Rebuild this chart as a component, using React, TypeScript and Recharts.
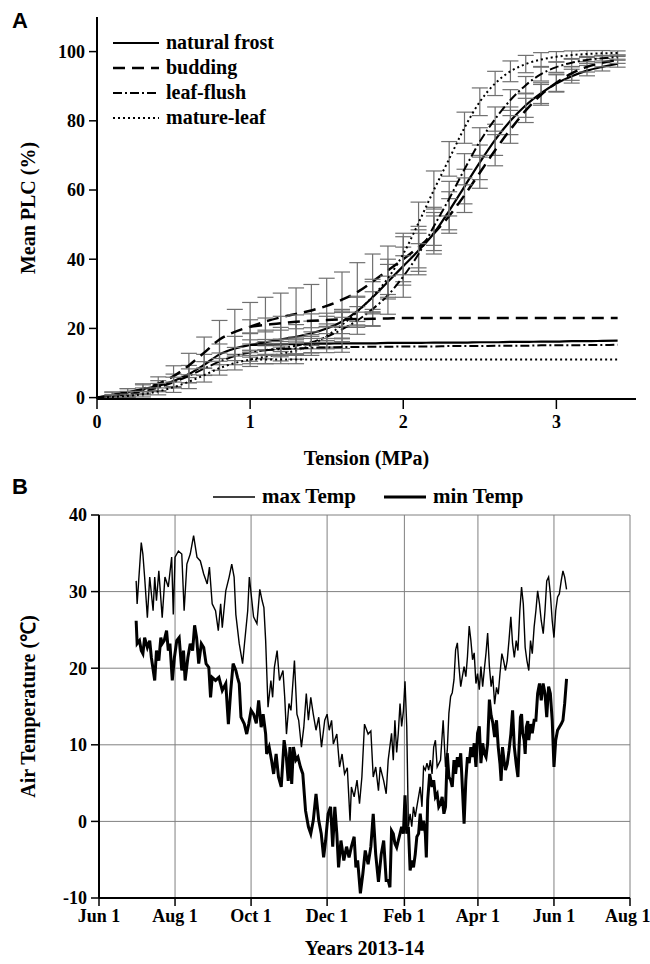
import React from 'react';
import {
  LineChart,
  Line,
  XAxis,
  YAxis,
  ErrorBar,
  CartesianGrid,
  Legend,
  Label,
} from 'recharts';

// ---- panel A: vulnerability curves ----
const tension = [
  0, 0.1, 0.2, 0.3, 0.4, 0.5, 0.6, 0.7, 0.8, 0.9, 1.0, 1.1, 1.2, 1.3, 1.4, 1.5, 1.6, 1.7,
  1.8, 1.9, 2.0, 2.1, 2.2, 2.3, 2.4, 2.5, 2.6, 2.7, 2.8, 2.9, 3.0, 3.1, 3.2, 3.3, 3.4,
];
const frostFit = [
  0, 0.8, 1.6, 2.5, 3.4, 4.8, 6.8, 9.5, 12.5, 14.2, 15.2, 16.0, 16.8, 17.6, 18.6, 20.0, 22.0,
  25.0, 29.0, 33.5, 38.0, 42.5, 47.5, 54.0, 61.0, 68.0, 74.5, 80.0, 84.5, 88.0, 90.8, 92.9,
  94.5, 95.6, 96.5,
];
const frostFlat = [
  null, null, null, null, null, null, null, null, null, null, 15.2, 15.3, 15.4, 15.5, 15.6,
  15.6, 15.7, 15.7, 15.7, 15.8, 15.8, 15.8, 15.9, 15.9, 15.9, 16.0, 16.0, 16.1, 16.1, 16.2,
  16.2, 16.3, 16.3, 16.4, 16.5,
];
const buddingFit = [
  0, 0.6, 1.4, 2.5, 4.0, 6.2, 9.3, 13.0, 16.8, 19.0, 20.5, 22.0, 23.2, 24.2, 25.2, 26.5, 28.3,
  30.5, 33.5, 36.8, 40.0, 43.5, 47.5, 52.5, 58.5, 65.0, 71.5, 77.5, 83.0, 87.5, 91.0, 93.7,
  95.6, 96.8, 97.6,
];
const buddingFlat = [
  null, null, null, null, null, null, null, null, null, null, 20.5, 21.0, 21.5, 21.9, 22.2,
  22.4, 22.6, 22.7, 22.8, 22.9, 23.0, 23.0, 23.0, 23.0, 23.0, 23.0, 23.0, 23.0, 23.0, 23.0,
  23.0, 23.0, 23.0, 23.0, 23.0,
];
const leafFit = [
  0, 0.4, 1.0, 1.8, 2.9, 4.4, 6.3, 8.4, 10.4, 12.0, 13.0, 13.7, 14.3, 15.0, 16.0, 17.6, 19.7,
  22.3, 25.6, 29.6, 35.0, 41.5, 49.5, 57.5, 66.0, 74.0, 80.5, 86.0, 90.3, 93.5, 95.5, 96.8,
  97.6, 98.1, 98.4,
];
const leafFlat = [
  null, null, null, null, null, null, null, null, null, null, null, 13.7, 14.0, 14.2, 14.4,
  14.5, 14.6, 14.6, 14.7, 14.7, 14.8, 14.8, 14.8, 14.9, 14.9, 14.9, 15.0, 15.0, 15.0, 15.1,
  15.1, 15.1, 15.2, 15.2, 15.3,
];
const matureFit = [
  0, 0.2, 0.5, 1.0, 1.8, 3.0, 4.6, 6.5, 8.5, 10.0, 11.0, 11.8, 12.6, 13.6, 15.2, 17.8, 21.0,
  24.8, 29.2, 34.5, 41.5, 50.5, 60.0, 69.0, 78.0, 85.5, 90.8, 94.3, 96.4, 97.7, 98.5, 99.0,
  99.3, 99.5, 99.6,
];
const matureFlat = [
  null, null, null, null, null, null, null, null, null, null, 11.0, 11.0, 11.0, 11.0, 11.0,
  11.0, 11.0, 11.0, 11.0, 11.0, 11.0, 11.0, 11.0, 11.0, 11.0, 11.0, 11.0, 11.0, 11.0, 11.0,
  11.0, 11.0, 11.0, 11.0, 11.0,
];

// standard errors
const frostErr = [
  null, 0.8, 1, 1.2, 1.5, 2, 2.5, 3, 3, 3.5, 3.5, 3.5, 3.5, 3.5, 3.5, 3.5, 3.5, 4, 4.5, 5,
  5.5, 6, 6, 5.5, 5, 5, 4.5, 4, 3.5, 3, 2.5, 2, 1.5, 1.2, 1,
];
const buddingErr = [
  null, 1, 1.2, 1.5, 2, 3, 3.5, 4.5, 5.5, 6.5, 7, 7, 7, 7.5, 7.5, 8, 8, 8.5, 8, 7, 6.5, 6, 5,
  5, 5, 4.5, 4.5, 4, 3.5, 3, 2.5, 2, 1.5, 1.2, 1,
];
const leafErr = [
  null, 0.5, 0.8, 1, 1.2, 1.5, 2, 2, 2.5, 2.5, 2.5, 2.5, 2.5, 2.5, 3, 3, 3.5, 4, 5, 5.5, 6, 6,
  5.5, 5, 4.5, 4, 3.5, 3, 2.5, 2, 1.5, 1.2, 1, 0.8, 0.6,
];
const matureErr = [
  null, 0.3, 0.5, 0.8, 1, 1.5, 2, 2, 2, 2, 2, 2, 2, 2.5, 3, 3.5, 4, 4.5, 5, 5.5, 6, 6, 5.5,
  5, 4.5, 4, 3.5, 3, 2.5, 2, 1.5, 1.2, 1, 0.8, 0.6,
];
const frostFlatErr = [
  null, null, null, null, null, null, null, null, null, null, 1.5, 1.5, 1.5, 1.5, 1.5, 1.5,
  1.5,
];
const buddingFlatErr = [
  null, null, null, null, null, null, null, null, null, null, 2, 2, 2, 2, 2, 2, 2, 2, 2,
];
const leafFlatErr = [
  null, null, null, null, null, null, null, null, null, null, null, 1.5, 1.5, 1.5, 1.5, 1.5,
  1.5,
];
const matureFlatErr = [null, null, null, null, null, null, null, null, null, null, 1.2, 1.2, 1.2, 1.2];

const tensionTicks = [0, 1, 2, 3];
const plcTicks = [0, 20, 40, 60, 80, 100];

// ---- panel B: daily air temperature (day 0 = Jun 1 2013) ----
const maxDay = [
  29.8, 30.6, 33.9, 35.2, 36.6, 38.8, 40.7, 43.4, 44.7, 46.1, 48.0, 50.7, 52.9, 55.6, 58.3,
  59.6, 61.0, 63.7, 66.4, 68.3, 70.5, 73.2, 75.9, 78.6, 81.3, 84.0, 86.8, 88.6, 90.8, 93.5,
  95.7, 97.6, 98.9, 101.7, 104.4, 106.5, 108.4, 109.8, 112.5, 115.2, 116.6, 119.3, 120.6,
  124.0, 126.7, 129.0, 130.9, 132.3, 133.7, 135.6, 137.9, 139.3, 140.7, 142.9, 144.8, 147.6,
  149.0, 150.4, 152.4, 154.0, 156.8, 158.8, 160.2, 162.4, 164.3, 166.3, 168.0, 169.9, 171.9,
  174.1, 176.3, 178.5, 181.1, 183.0, 184.7, 186.6, 188.0, 190.8, 193.0, 195.0, 197.0, 199.2,
  201.4, 202.5, 204.7, 207.0, 209.0, 210.9, 213.0, 215.9, 218.1, 220.0, 222.0, 224.2, 225.6,
  228.4, 230.4, 232.0, 234.7, 236.1, 237.4, 238.8, 240.1, 241.5, 242.8, 244.2, 245.5, 246.9,
  248.2, 249.6, 250.9, 252.3, 253.7, 255.0, 257.7, 259.1, 260.4, 261.8, 263.1, 264.5, 265.8,
  267.2, 268.5, 269.9, 271.3, 274.0, 276.1, 278.0, 279.4, 280.7, 282.1, 283.4, 284.8, 286.1,
  287.5, 288.8, 290.2, 291.5, 292.9, 294.3, 295.6, 297.0, 298.3, 299.7, 301.0, 302.4, 303.7,
  305.1, 306.4, 307.8, 309.1, 310.5, 311.8, 313.2, 314.6, 315.9, 317.4, 318.9, 320.3, 321.7,
  323.2, 324.6, 326.1, 327.5, 328.9, 330.4, 331.8, 333.2, 334.7, 336.1, 337.6, 339.0, 340.4,
  341.9, 343.3, 344.8, 346.2, 347.6, 349.1, 350.5, 351.9, 353.4, 354.8, 356.4, 357.8, 359.2,
  360.7, 362.1, 363.6, 365.0, 366.4, 367.9, 369.3, 370.8, 372.2, 373.6, 375.1,
];
const maxTemp = [
  31.4, 28.4, 36.4, 34.9, 31.9, 26.6, 31.9, 27.5, 31.9, 28.8, 32.7, 26.6, 31.9, 30.6, 34.5,
  27.0, 34.5, 35.3, 34.9, 27.5, 33.6, 34.9, 37.3, 34.5, 34.0, 32.3, 31.0, 33.2, 28.4, 27.5,
  24.9, 28.4, 25.3, 30.1, 31.9, 33.6, 31.9, 27.0, 23.2, 20.6, 23.0, 27.5, 31.9,
  26.7, 25.8, 30.3, 28.8, 27.9, 23.6, 14.9, 18.4, 16.2, 20.1, 22.3, 18.4, 19.7,
  16.2, 11.4, 15.4, 14.5, 21.0, 14.0, 13.2, 9.7, 12.3, 16.7, 13.2, 16.2, 14.0,
  11.9, 13.6, 9.7, 13.2, 14.0, 11.9, 13.2, 10.1, 11.4, 7.1, 8.8, 6.2, 7.0,
  0.1, 4.5, 3.2, 5.4, 2.3, 5.8, 12.7, 11.4, 11.8, 5.8, 7.1, 4.0, 7.1,
  5.3, 3.6, 8.0, 11.5, 8.0, 13.2, 9.0, 11.5, 15.4, 12.4, 14.4, 18.3, 12.4,
  -0.7, 1.0, -0.7, 1.9, 0.6, 1.9, 4.5, 1.9, 7.1, 6.7, 7.6, 6.7, 8.0,
  6.2, 9.7, 10.6, 7.1, 8.0, 13.2, 7.1, 9.3, 14.1, 16.3, 16.8, 18.5, 22.4,
  23.3, 20.2, 17.6, 18.9, 20.2, 18.9, 21.5, 25.5, 23.7, 21.1, 22.0, 18.0, 19.3,
  17.2, 20.2, 17.6, 19.8, 22.0, 24.6, 20.2, 17.6, 19.0, 15.3, 17.5, 16.6, 19.3,
  21.9, 21.0, 19.7, 21.0, 23.6, 26.7, 23.2, 21.4, 23.6, 22.3, 27.5, 30.6, 28.4,
  22.7, 21.0, 19.7, 23.6, 21.9, 25.4, 27.5, 30.1, 28.4, 26.2, 24.5, 27.5, 31.4,
  31.9, 29.7, 26.2, 24.0, 27.5, 29.3, 29.7, 31.4, 32.7, 31.9, 30.3,
];
const minDay = [
  29.8, 30.6, 32.5, 33.9, 35.2, 36.6, 38.8, 40.7, 42.0, 44.7, 46.1, 48.0, 49.6, 50.7, 52.3,
  54.2, 55.6, 56.9, 58.8, 60.5, 62.4, 64.3, 66.4, 67.8, 69.1, 71.3, 73.2, 75.1, 76.7, 78.3,
  80.0, 82.1, 84.0, 85.9, 88.1, 89.5, 90.8, 93.5, 96.2, 98.9, 101.7, 103.8, 105.7, 107.6,
  109.8, 111.1, 112.5, 113.9, 116.6, 118.5, 120.1, 122.0, 124.0, 126.2, 128.1, 130.1, 131.7,
  133.7, 134.5, 136.5, 138.4, 140.1, 142.1, 144.0, 146.2, 148.5, 150.1, 151.8, 153.2, 154.6,
  156.0, 157.9, 159.6, 161.6, 163.5, 165.7, 168.0, 169.9, 171.9, 174.1, 176.3, 178.3, 180.2,
  181.8, 183.8, 185.8, 187.5, 189.2, 190.8, 192.2, 194.1, 196.4, 198.6, 200.6, 202.5, 204.7,
  206.1, 207.5, 209.7, 211.7, 213.6, 215.9, 218.1, 220.0, 222.0, 224.2, 226.4, 228.4, 230.4,
  232.0, 233.4, 234.7, 236.1, 237.4, 238.8, 240.1, 241.5, 242.8, 244.2, 245.5, 246.9, 248.2,
  249.6, 250.9, 252.3, 253.7, 255.0, 256.4, 257.7, 259.1, 260.4, 261.8, 262.6, 263.7, 265.3,
  267.2, 268.5, 269.9, 271.3, 272.6, 274.0, 275.3, 276.7, 278.0, 279.4, 280.7, 282.1, 283.4,
  284.8, 286.1, 287.5, 288.8, 290.2, 291.5, 292.9, 294.3, 295.6, 297.0, 298.3, 299.7, 301.0,
  302.4, 303.7, 305.1, 306.4, 307.8, 309.1, 310.5, 311.8, 313.2, 314.6, 315.9, 317.4, 318.9,
  320.3, 321.7, 322.6, 323.7, 324.9, 326.1, 327.5, 328.9, 330.4, 331.8, 333.2, 334.7, 336.1,
  337.0, 338.1, 339.0, 339.9, 341.1, 341.9, 342.8, 344.0, 344.8, 346.2, 347.6, 349.1, 350.5,
  351.9, 353.4, 354.8, 356.3, 357.8, 359.2, 360.7, 362.1, 363.6, 365.0, 366.4, 367.9, 369.3,
  370.8, 372.2, 373.6, 375.1,
];
const minTemp = [
  26.2, 23.2, 23.6, 22.3, 21.9, 24.0, 22.7, 23.6, 21.4, 18.4, 22.3, 21.0, 24.0, 23.2, 23.6,
  24.9, 22.3, 23.2, 18.4, 21.4, 23.6, 24.0, 19.7, 22.3, 18.4, 21.4, 23.2, 22.3, 25.6, 24.0,
  20.6, 23.2, 22.7, 20.6, 20.1, 16.2, 18.8, 18.4, 18.8, 17.1, 18.0, 12.7, 17.1, 20.6,
  19.7, 18.8, 18.0, 13.6, 12.7, 11.4, 12.7, 14.5, 14.0, 12.8, 15.8, 12.3, 14.0,
  11.4, 8.8, 9.7, 8.0, 6.2, 8.8, 5.8, 4.5, 10.6, 8.8, 5.3, 9.7, 4.9,
  9.7, 8.0, 8.4, 7.1, 6.2, 1.4, -0.7, -1.6, 0.1, 3.6, 0.1, -1.6, -4.7,
  -2.5, 1.0, 1.9, -3.3, 1.9, -1.6, -6.0, -2.5, -5.1, -3.3, -4.7, -3.3, -2.0,
  -6.0, -5.1, -9.4, -6.8, -3.8, -5.6, -3.3, 1.0, -4.3, -7.9, -4.3, -2.5, -7.7,
  -7.7, -8.6, -1.2, -1.6, -2.9, -3.4, -2.5, -1.6, -0.7, -1.6, 3.4, -1.6, -0.7,
  -6.4, -5.1, -6.0, -4.3, -2.0, -1.6, 1.0, -1.2, 0.1, -1.6, -4.7, 2.8, 6.2,
  4.5, 5.4, 3.2, 3.6, 1.9, 2.3, 3.2, 1.0, 1.9, 8.9, 5.8, 5.4, 4.5,
  8.0, 6.2, 8.4, 7.1, 8.9, 4.5, -0.3, 5.4, 8.4, 7.6, 9.7, 8.4, 10.2,
  7.1, 11.5, 12.4, 7.6, 10.2, 8.9, 8.4, 10.2, 15.9, 13.8, 12.9, 11.0, 13.2,
  9.7, 7.5, 5.3, 9.7, 8.0, 6.7, 7.5, 9.2, 11.4, 14.5, 9.7, 7.5, 5.8,
  9.7, 13.6, 14.0, 11.5, 10.6, 8.8, 12.3, 13.1, 10.6, 12.7, 11.5, 13.2, 13.2,
  16.7, 18.0, 15.8, 18.0, 16.7, 13.6, 17.6, 16.7, 13.2, 7.1, 10.6, 11.9, 12.3,
  12.7, 13.2, 15.4, 18.6,
];

const monthTicks = [0, 61, 122, 183, 245, 304, 365, 426];
const monthLabels = ['Jun 1', 'Aug 1', 'Oct 1', 'Dec 1', 'Feb 1', 'Apr 1', 'Jun 1', 'Aug 1'];
const tempTicks = [-10, 0, 10, 20, 30, 40];

const serif = '"Liberation Serif", "Times New Roman", serif';
const sans = '"Liberation Sans", Arial, sans-serif';

const dataA = tension.map((t, i) => ({
  t,
  frost: frostFit[i],
  frostFlat: frostFlat[i],
  budding: buddingFit[i],
  buddingFlat: buddingFlat[i],
  leaf: leafFit[i],
  leafFlat: leafFlat[i],
  mature: matureFit[i],
  matureFlat: matureFlat[i],
  frostErr: frostErr[i],
  buddingErr: buddingErr[i],
  leafErr: leafErr[i],
  matureErr: matureErr[i],
  frostFlatErr: frostFlatErr[i],
  buddingFlatErr: buddingFlatErr[i],
  leafFlatErr: leafFlatErr[i],
  matureFlatErr: matureFlatErr[i],
}));

const maxData = maxDay.map((day, i) => ({ day, v: maxTemp[i] }));
const minData = minDay.map((day, i) => ({ day, v: minTemp[i] }));

const seriesA = [
  { key: 'frost', name: 'natural frost', dash: undefined, width: 2.2 },
  { key: 'budding', name: 'budding', dash: '12 7', width: 2.5 },
  { key: 'leaf', name: 'leaf-flush', dash: '9 3 2 3', width: 2 },
  { key: 'mature', name: 'mature-leaf', dash: '2 3', width: 2 },
];

const tickStyle = { fill: '#000', fontSize: 18, fontWeight: 700, fontFamily: serif, style: { fontFamily: serif } };
const titleStyle = { fill: '#000', fontSize: 20, fontWeight: 700, fontFamily: serif };
const axisLine = { stroke: '#000', strokeWidth: 2 };
const tickLine = { stroke: '#000', strokeWidth: 1.5 };
const errColor = '#707070';

function LegendA() {
  return (
    <div>
      {seriesA.map((s) => (
        <div key={s.key} style={{ display: 'flex', alignItems: 'center', height: 25 }}>
          <svg width={46} height={10}>
            <line x1={0} x2={46} y1={5} y2={5} stroke="#000" strokeWidth={s.width} strokeDasharray={s.dash} />
          </svg>
          <span style={{ marginLeft: 7, fontFamily: serif, fontWeight: 700, fontSize: 20 }}>{s.name}</span>
        </div>
      ))}
    </div>
  );
}

function LegendB() {
  const items = [
    { name: 'max Temp', width: 1.4 },
    { name: 'min Temp', width: 3 },
  ];
  return (
    <div style={{ display: 'flex', alignItems: 'center' }}>
      {items.map((it, i) => (
        <div key={it.name} style={{ display: 'flex', alignItems: 'center', marginLeft: i ? 28 : 0 }}>
          <svg width={42} height={10}>
            <line x1={0} x2={42} y1={5} y2={5} stroke="#000" strokeWidth={it.width} />
          </svg>
          <span style={{ marginLeft: 7, fontFamily: serif, fontWeight: 700, fontSize: 21 }}>{it.name}</span>
        </div>
      ))}
    </div>
  );
}

export default function App() {
  return (
    <div style={{ position: 'absolute', left: 0, top: 0, width: 650, height: 964, background: '#fff', fontFamily: serif }}>
      <div style={{ position: 'absolute', left: 12, top: 8, fontFamily: sans, fontWeight: 700, fontSize: 22 }}>A</div>
      <div style={{ position: 'absolute', left: 12, top: 474, fontFamily: sans, fontWeight: 700, fontSize: 22 }}>B</div>

      <div style={{ position: 'absolute', left: 0, top: 0 }}>
        <LineChart width={650} height={470} data={dataA} margin={{ top: 17, right: 14, left: 0, bottom: 0 }}>
          <XAxis
            dataKey="t"
            type="number"
            domain={[0, 3.52]}
            ticks={tensionTicks}
            allowDataOverflow
            height={71}
            tick={tickStyle}
            tickSize={10}
            tickMargin={6}
            axisLine={axisLine}
            tickLine={tickLine}
          >
            <Label value="Tension (MPa)" position="insideBottom" offset={5} style={titleStyle} />
          </XAxis>
          <XAxis xAxisId="top" orientation="top" type="number" domain={[0, 1]} height={0} tick={false} tickLine={false} axisLine={axisLine} />
          <YAxis
            domain={[0, 110]}
            ticks={plcTicks}
            width={97}
            tick={tickStyle}
            tickSize={8}
            tickMargin={4}
            axisLine={axisLine}
            tickLine={tickLine}
          >
            <Label value="Mean PLC (%)" angle={-90} position="insideLeft" offset={28} style={{ ...titleStyle, textAnchor: 'middle' }} />
          </YAxis>
          <YAxis yAxisId="right" orientation="right" domain={[0, 1]} width={0} tick={false} tickLine={false} axisLine={axisLine} />
          <Legend
            layout="vertical"
            align="center"
            verticalAlign="middle"
            content={() => <LegendA />}
            wrapperStyle={{ top: 30, left: 113, width: 'auto' }}
          />
          {seriesA.map((s) => (
            <Line
              key={s.key}
              type="monotone"
              dataKey={s.key}
              stroke="#000"
              strokeWidth={s.width}
              strokeDasharray={s.dash}
              dot={false}
              isAnimationActive={false}
              legendType="none"
            >
              <ErrorBar dataKey={s.key + 'Err'} width={8} strokeWidth={1.2} stroke={errColor} direction="y" />
            </Line>
          ))}
          {seriesA.map((s) => (
            <Line
              key={s.key + 'Flat'}
              type="monotone"
              dataKey={s.key + 'Flat'}
              stroke="#000"
              strokeWidth={s.width}
              strokeDasharray={s.dash}
              dot={false}
              isAnimationActive={false}
              legendType="none"
            >
              <ErrorBar dataKey={s.key + 'FlatErr'} width={8} strokeWidth={1.2} stroke={errColor} direction="y" />
            </Line>
          ))}
        </LineChart>
      </div>

      <div style={{ position: 'absolute', left: 0, top: 470 }}>
        <LineChart width={650} height={494} margin={{ top: 45, right: 20, left: 0, bottom: 0 }}>
          <CartesianGrid stroke="#808080" strokeWidth={1} />
          <XAxis
            dataKey="day"
            type="number"
            domain={[0, 426]}
            ticks={monthTicks}
            tickFormatter={(d) => monthLabels[monthTicks.indexOf(d)]}
            allowDataOverflow
            height={66}
            tick={tickStyle}
            tickSize={8}
            tickMargin={3}
            axisLine={axisLine}
            tickLine={tickLine}
          >
            <Label value="Years 2013-14" position="insideBottom" offset={9} style={titleStyle} />
          </XAxis>
          <XAxis xAxisId="top" orientation="top" type="number" domain={[0, 1]} height={0} tick={false} tickLine={false} axisLine={axisLine} />
          <YAxis
            domain={[-10, 40]}
            ticks={tempTicks}
            width={99}
            tick={tickStyle}
            tickSize={8}
            tickMargin={4}
            axisLine={axisLine}
            tickLine={tickLine}
          >
            <Label value="Air Temperature (℃)" angle={-90} position="insideLeft" offset={28} style={{ ...titleStyle, textAnchor: 'middle' }} />
          </YAxis>
          <YAxis yAxisId="right" orientation="right" domain={[0, 1]} width={0} tick={false} tickLine={false} axisLine={axisLine} />
          <Legend
            layout="vertical"
            align="center"
            verticalAlign="middle"
            content={() => <LegendB />}
            wrapperStyle={{ top: 14, left: 213, width: 'auto' }}
          />
          <Line data={maxData} dataKey="v" name="max Temp" type="linear" stroke="#000" strokeWidth={1.4} dot={false} isAnimationActive={false} />
          <Line data={minData} dataKey="v" name="min Temp" type="linear" stroke="#000" strokeWidth={3} dot={false} isAnimationActive={false} />
        </LineChart>
      </div>
    </div>
  );
}
